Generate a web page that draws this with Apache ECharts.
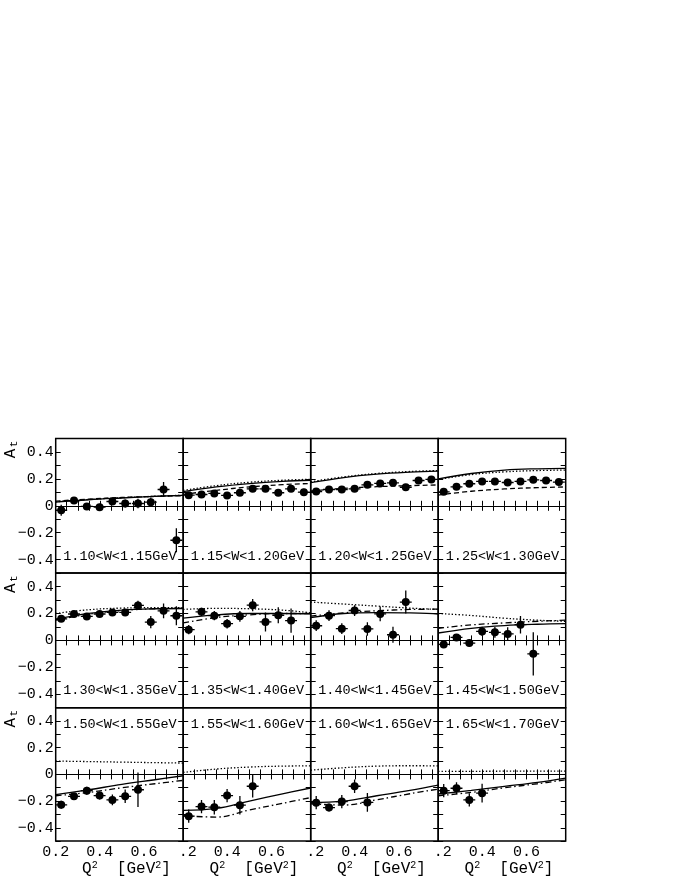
<!DOCTYPE html>
<html>
<head>
<meta charset="utf-8">
<script src="https://cdn.jsdelivr.net/npm/echarts@6/dist/echarts.min.js"></script>
<style>
html, body { margin: 0; padding: 0; background: #fff; }
#main { width: 678px; height: 878px; }
</style>
</head>
<body>
<div id="main"></div>
<script>
// W bins, one panel each (4 columns x 3 rows)
var wBins = ['1.10<W<1.15GeV', '1.15<W<1.20GeV', '1.20<W<1.25GeV', '1.25<W<1.30GeV',
             '1.30<W<1.35GeV', '1.35<W<1.40GeV', '1.40<W<1.45GeV', '1.45<W<1.50GeV',
             '1.50<W<1.55GeV', '1.55<W<1.60GeV', '1.60<W<1.65GeV', '1.65<W<1.70GeV'];

// Q2 bin centres and half width
var q2Bins = [0.225, 0.283, 0.341, 0.399, 0.457, 0.515, 0.573, 0.631, 0.689, 0.747];
var q2Half = 0.027;

// measured At per panel
var aT = [
  [-0.033, 0.039, -0.005, -0.010, 0.032, 0.017, 0.017, 0.027, 0.121, -0.256],
  [0.079, 0.084, 0.092, 0.077, 0.097, 0.126, 0.126, 0.097, 0.126, 0.101],
  [0.106, 0.121, 0.121, 0.126, 0.156, 0.166, 0.171, 0.138, 0.188, 0.196],
  [0.104, 0.141, 0.164, 0.181, 0.181, 0.173, 0.181, 0.193, 0.188, 0.176],
  [0.160, 0.196, 0.178, 0.196, 0.208, 0.208, 0.260, 0.136, 0.220, 0.183],
  [0.080, 0.212, 0.184, 0.124, 0.179, 0.262, 0.137, 0.187, 0.147],
  [0.109, 0.184, 0.087, 0.222, 0.085, 0.197, 0.042, 0.285],
  [-0.030, 0.022, -0.020, 0.067, 0.060, 0.048, 0.117, -0.100],
  [-0.228, -0.164, -0.122, -0.159, -0.191, -0.164, -0.115],
  [-0.313, -0.241, -0.246, -0.159, -0.231, -0.089],
  [-0.212, -0.249, -0.204, -0.089, -0.210],
  [-0.122, -0.104, -0.191, -0.141]
];
var aTErr = [
  [0.040, 0.020, 0.025, 0.025, 0.025, 0.030, 0.035, 0.035, 0.055, 0.090],
  [0.020, 0.015, 0.015, 0.015, 0.015, 0.015, 0.015, 0.015, 0.020, 0.025],
  [0.020, 0.015, 0.015, 0.015, 0.015, 0.015, 0.015, 0.015, 0.020, 0.020],
  [0.020, 0.015, 0.015, 0.015, 0.015, 0.015, 0.015, 0.015, 0.020, 0.020],
  [0.020, 0.015, 0.020, 0.020, 0.020, 0.025, 0.035, 0.045, 0.055, 0.070],
  [0.035, 0.030, 0.035, 0.035, 0.040, 0.045, 0.070, 0.060, 0.090],
  [0.040, 0.040, 0.040, 0.040, 0.050, 0.055, 0.060, 0.085],
  [0.020, 0.020, 0.025, 0.035, 0.040, 0.050, 0.065, 0.160],
  [0.030, 0.025, 0.030, 0.030, 0.040, 0.050, 0.130],
  [0.050, 0.050, 0.055, 0.050, 0.070, 0.085],
  [0.050, 0.030, 0.050, 0.050, 0.070],
  [0.050, 0.045, 0.050, 0.070]
];

// model curves, read at these Q2 nodes
var curveQ2 = [0.2, 0.35, 0.5, 0.65, 0.778];
var solidCurve = [
  [0.028, 0.045, 0.058, 0.070, 0.078],
  [0.105, 0.140, 0.165, 0.182, 0.190],
  [0.172, 0.210, 0.235, 0.250, 0.258],
  [0.200, 0.240, 0.265, 0.275, 0.278],
  [0.155, 0.200, 0.225, 0.235, 0.237],
  [0.165, 0.190, 0.200, 0.200, 0.198],
  [0.170, 0.200, 0.207, 0.205, 0.196],
  [0.055, 0.090, 0.110, 0.120, 0.124],
  [-0.152, -0.115, -0.075, -0.040, -0.010],
  [-0.270, -0.255, -0.200, -0.146, -0.102],
  [-0.210, -0.200, -0.160, -0.120, -0.080],
  [-0.147, -0.120, -0.090, -0.060, -0.028]
];
var dottedCurve = [
  [0.030, 0.047, 0.060, 0.071, 0.078],
  [0.115, 0.150, 0.175, 0.190, 0.197],
  [0.178, 0.215, 0.240, 0.255, 0.262],
  [0.195, 0.232, 0.252, 0.262, 0.265],
  [0.200, 0.228, 0.240, 0.244, 0.243],
  [0.230, 0.238, 0.235, 0.225, 0.205],
  [0.285, 0.270, 0.255, 0.240, 0.230],
  [0.200, 0.185, 0.165, 0.150, 0.142],
  [0.100, 0.096, 0.092, 0.088, 0.085],
  [0.015, 0.040, 0.055, 0.062, 0.064],
  [0.032, 0.050, 0.062, 0.065, 0.064],
  [0.022, 0.023, 0.024, 0.025, 0.025]
];
var dashCurve = [
  [0.035, 0.050, 0.062, 0.070, 0.075],
  [0.085, 0.115, 0.140, 0.157, 0.166],
  [0.110, 0.130, 0.142, 0.150, 0.155],
  [0.080, 0.108, 0.125, 0.135, 0.140],
  [0.150, 0.195, 0.222, 0.235, 0.238],
  [0.130, 0.170, 0.190, 0.200, 0.200],
  [0.180, 0.205, 0.220, 0.230, 0.232],
  [0.090, 0.115, 0.130, 0.142, 0.150],
  [-0.160, -0.135, -0.100, -0.070, -0.045],
  [-0.310, -0.320, -0.267, -0.217, -0.174],
  [-0.220, -0.230, -0.190, -0.145, -0.110],
  [-0.160, -0.135, -0.100, -0.070, -0.040]
];

// axis ticks and labels
var xTicks = [0.2, 0.25, 0.3, 0.35, 0.4, 0.45, 0.5, 0.55, 0.6, 0.65, 0.7, 0.75];
var xLabels = [0.2, 0.4, 0.6];
var yTicks = [-0.5, -0.4, -0.3, -0.2, -0.1, 0, 0.1, 0.2, 0.3, 0.4, 0.5];
var yLabels = [-0.4, -0.2, 0, 0.2, 0.4];

var FONT = '"Liberation Mono", "DejaVu Sans Mono", monospace';
var X0 = 55.7, PW = 127.5, Y0 = 438.5, PH = 134.6;

function fmtY(v) {
  if (Math.abs(v) < 1e-9) return '0';
  return (v < 0 ? '\u2212' : '') + Math.abs(v).toFixed(1);
}

function tickStyle(vals) {
  return {show: true, inside: true, length: 5, customValues: vals,
    lineStyle: {color: '#000', width: 1}};
}

function renderPoint(params, api) {
  var x = api.value(0), y = api.value(1), ey = api.value(2), ex = api.value(3);
  var p = api.coord([x, y]);
  var t = api.coord([x, y + ey]), b = api.coord([x, y - ey]);
  var l = api.coord([x - ex, y]), rgt = api.coord([x + ex, y]);
  return {type: 'group', children: [
    {type: 'line', shape: {x1: p[0], y1: t[1], x2: p[0], y2: b[1]}, style: {stroke: '#000', lineWidth: 1.3}},
    {type: 'line', shape: {x1: l[0], y1: p[1], x2: rgt[0], y2: p[1]}, style: {stroke: '#000', lineWidth: 1.3}},
    {type: 'circle', shape: {cx: p[0], cy: p[1], r: 4}, style: {fill: '#000'}}
  ]};
}

function buildOption() {
  var grids = [], xAxes = [], yAxes = [], series = [], graphics = [];
  for (var i = 0; i < 12; i++) {
    var row = Math.floor(i / 4), col = i % 4;
    var gx = X0 + col * PW, gy = Y0 + row * PH;
    grids.push({left: gx, top: gy, width: PW, height: PH, show: true,
      borderColor: '#000', borderWidth: 1.5});

    var xa = {
      gridIndex: i, type: 'value', min: 0.2, max: 0.778, position: 'bottom',
      axisLine: {show: false}, splitLine: {show: false}, axisTick: tickStyle(xTicks),
      axisLabel: {show: row === 2, customValues: xLabels, margin: 3, color: '#000',
        fontFamily: FONT, fontSize: 15,
        formatter: (function (cc) {
          return function (v) {
            if (cc > 0 && Math.abs(v - 0.2) < 1e-9) return '{h|0}.2';
            return v.toFixed(1);
          };
        })(col),
        rich: {h: {color: 'rgba(0,0,0,0)', fontFamily: FONT, fontSize: 15}}}
    };
    if (row === 2) {
      xa.name = 'Q{sup|2}  [GeV{sup|2}]';
      xa.nameLocation = 'middle';
      xa.nameGap = 16;
      xa.nameTextStyle = {color: '#000', fontFamily: FONT, fontSize: 16, padding: [0, 0, 0, 14],
        rich: {sup: {fontFamily: FONT, fontSize: 10, verticalAlign: 'top', padding: [0, 0, 8, 0]}}};
    }
    xAxes.push(xa);
    xAxes.push({gridIndex: i, type: 'value', min: 0.2, max: 0.778, position: 'top',
      axisLine: {show: false}, splitLine: {show: false}, axisTick: tickStyle(xTicks),
      axisLabel: {show: false}});
    yAxes.push({gridIndex: i, type: 'value', min: -0.5, max: 0.5, position: 'left',
      axisLine: {show: false}, splitLine: {show: false}, axisTick: tickStyle(yTicks),
      axisLabel: {show: col === 0, customValues: yLabels, margin: 2, color: '#000',
        fontFamily: FONT, fontSize: 15, formatter: fmtY}});
    yAxes.push({gridIndex: i, type: 'value', min: -0.5, max: 0.5, position: 'right',
      axisLine: {show: false}, splitLine: {show: false}, axisTick: tickStyle(yTicks),
      axisLabel: {show: false}});

    var ai = i * 2;
    var curve = function (arr) {
      return curveQ2.map(function (q, k) { return [q, arr[k]]; });
    };
    series.push({
      type: 'line', xAxisIndex: ai, yAxisIndex: ai, data: curve(solidCurve[i]),
      smooth: 0.4, symbol: 'none', lineStyle: {color: '#000', width: 1.3, type: 'solid'},
      markLine: {silent: true, symbol: 'none', label: {show: false},
        lineStyle: {color: '#000', width: 1, type: 'solid'}, data: [{yAxis: 0}]}
    });
    series.push({
      type: 'line', xAxisIndex: ai, yAxisIndex: ai, data: curve(dottedCurve[i]),
      smooth: 0.4, symbol: 'none', lineStyle: {color: '#000', width: 1.3, type: [1.4, 2]}
    });
    series.push({
      type: 'line', xAxisIndex: ai, yAxisIndex: ai, data: curve(dashCurve[i]),
      smooth: 0.4, symbol: 'none',
      lineStyle: {color: '#000', width: 1.3, type: row === 0 ? [5, 3] : [6, 3, 1.5, 3]}
    });

    var pts = aT[i].map(function (v, k) { return [q2Bins[k], v, aTErr[i][k], q2Half]; });
    series.push({type: 'custom', xAxisIndex: ai, yAxisIndex: ai, data: pts, clip: true,
      renderItem: renderPoint});

    graphics.push({
      type: 'text', x: gx + 7.5, y: row === 2 ? gy + 16.5 : gy + PH - 17, silent: true,
      style: {text: wBins[i], fill: '#000', fontFamily: FONT, fontSize: 13.5,
        align: 'left', verticalAlign: 'middle'}
    });
  }
  // rotated A_t title at the top of each row: big A, small t as subscript
  for (var rw = 0; rw < 3; rw++) {
    graphics.push({
      type: 'text', x: 10.5, y: Y0 + rw * PH + 15, rotation: Math.PI / 2, silent: true,
      style: {text: 'A', fill: '#000', fontFamily: FONT, fontSize: 16,
        align: 'center', verticalAlign: 'middle'}
    });
    graphics.push({
      type: 'text', x: 14.2, y: Y0 + rw * PH + 5.5, rotation: Math.PI / 2, silent: true,
      style: {text: 't', fill: '#000', fontFamily: FONT, fontSize: 11,
        align: 'center', verticalAlign: 'middle'}
    });
  }
  return {backgroundColor: '#fff', animation: false, grid: grids, xAxis: xAxes,
    yAxis: yAxes, series: series, graphic: graphics};
}

var chart = echarts.init(document.getElementById('main'));
chart.setOption(buildOption());
</script>
</body>
</html>
